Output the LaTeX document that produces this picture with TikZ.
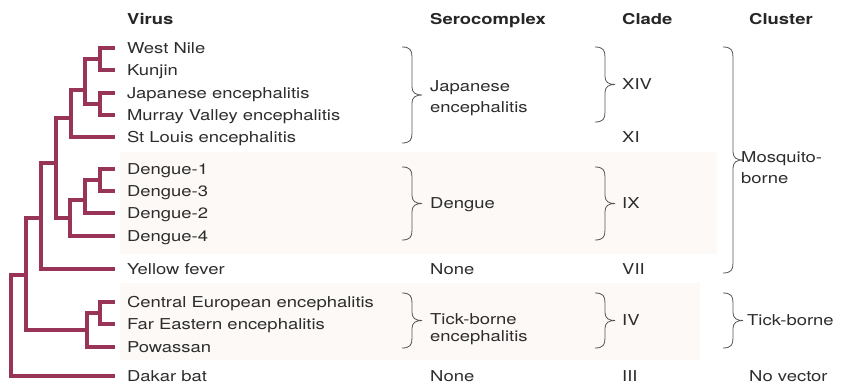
\documentclass[tikz,border=0pt]{standalone}
\usepackage{fontspec}
\setmainfont{TeX Gyre Heros}[FakeStretch=1.23]
\usepackage{tikz}
\usetikzlibrary{positioning}
\definecolor{ramacol}{RGB}{152,52,88}
\definecolor{banda}{RGB}{253,249,246}
\definecolor{texto}{RGB}{45,45,45}
\tikzset{
  rama/.style={draw=ramacol,line width=3.8pt},
  hoja/.style={anchor=west,inner sep=0pt,outer xsep=12pt,text=texto,
    font=\fontsize{15}{18}\selectfont,text height=11pt,text depth=0pt},
  col/.style={anchor=west,inner sep=0pt,text=texto,
    font=\fontsize{15}{18}\selectfont,text height=11pt,text depth=0pt},
  doble/.style={anchor=west,inner sep=0pt,text=texto,align=left,
    font=\fontsize{15}{#1}\selectfont},
  cab/.style={col,text=black!85,font=\fontsize{15}{18}\selectfont\bfseries},
  llave/.style={draw=texto!80,line width=0.8pt}
}
% llave: x, arriba, abajo
\newcommand{\llave}[3]{%
  \pgfmathsetmacro\llmid{(#2+#3)/2}%
  \draw[llave] (#1,#2) .. controls (#1+8,#2) and (#1+10,#2+3) .. (#1+10,#2+10)
    -- (#1+10,\llmid-8) .. controls (#1+10,\llmid-2) and (#1+14,\llmid) .. (#1+20,\llmid)
    .. controls (#1+14,\llmid) and (#1+10,\llmid+2) .. (#1+10,\llmid+8)
    -- (#1+10,#3-10) .. controls (#1+10,#3-3) and (#1+8,#3) .. (#1,#3);}

\begin{document}
\begin{tikzpicture}[x=1pt,y=-1pt]
\useasboundingbox (0,0) rectangle (841,385);
% bandas de fondo
\fill[banda] (120,152) rectangle (717,254);
\fill[banda] (120,283) rectangle (700,360);

% cabecera
\node[cab] (hvir) at (127,19) {Virus};
\node[cab] (hser) at (430,19) {Serocomplex};
\node[cab] (hcla) at (622,19) {Clade};
\node[cab] (hclu) at (749,19) {Cluster};

% virus
\node[hoja] (wn)  at (115,48)  {West Nile};
\node[hoja] (kun) at (115,70)  {Kunjin};
\node[hoja] (je)  at (115,93)  {Japanese encephalitis};
\node[hoja] (mv)  at (115,115) {Murray Valley encephalitis};
\node[hoja] (stl) at (115,137) {St Louis encephalitis};
\node[hoja] (d1)  at (115,169) {Dengue-1};
\node[hoja] (d3)  at (115,191) {Dengue-3};
\node[hoja] (d2)  at (115,213) {Dengue-2};
\node[hoja] (d4)  at (115,236) {Dengue-4};
\node[hoja] (yf)  at (115,269) {Yellow fever};
\node[hoja] (cee) at (115,302) {Central European encephalitis};
\node[hoja] (fee) at (115,324) {Far Eastern encephalitis};
\node[hoja] (pow) at (115,347) {Powassan};
\node[hoja] (dak) at (115,376) {Dakar bat};

% arbol
\coordinate (wk)   at (100,59);
\coordinate (jm)   at (100,104);
\coordinate (wkjm) at (85,90);
\coordinate (jec)  at (71,118);
\coordinate (d13)  at (100,180);
\coordinate (d132) at (85,200);
\coordinate (den)  at (70,218);
\coordinate (jed)  at (56,163);
\coordinate (mos)  at (41,218);
\coordinate (cf)   at (100,313);
\coordinate (tick) at (87,330);
\coordinate (vec)  at (26,275);
\coordinate (raiz) at (11,330);
\draw[rama] (wn.west) -| (wk) |- (kun.west);
\draw[rama] (je.west) -| (jm) |- (mv.west);
\draw[rama] (wk) -| (wkjm) |- (jm);
\draw[rama] (wkjm) -| (jec) |- (stl.west);
\draw[rama] (d1.west) -| (d13) |- (d3.west);
\draw[rama] (d13) -| (d132) |- (d2.west);
\draw[rama] (d132) -| (den) |- (d4.west);
\draw[rama] (jec) -| (jed) |- (den);
\draw[rama] (jed) -| (mos) |- (yf.west);
\draw[rama] (cee.west) -| (cf) |- (fee.west);
\draw[rama] (cf) -| (tick) |- (pow.west);
\draw[rama] (mos) -| (vec) |- (tick);
\draw[rama] (vec) -| (raiz) |- (dak.west);

% serocomplejos
\llave{402}{47}{143}
\llave{402}{167}{240}
\llave{402}{293}{348}
\node[doble=21] (sje) at (430,98) {Japanese\\encephalitis};
\node[col] (sden) at (430,203) {Dengue};
\node[col] (syf) at (430,269) {None};
\node[doble=17] (stbe) at (430,329) {Tick-borne\\encephalitis};
\node[col] (sdak) at (430,376) {None};

% clados
\llave{595}{47}{122}
\llave{595}{167}{240}
\llave{595}{293}{348}
\node[col] (cxiv) at (622,84)  {XIV};
\node[col] (cxi)  at (622,137) {XI};
\node[col] (cix)  at (622,203) {IX};
\node[col] (cvii) at (622,269) {VII};
\node[col] (civ)  at (622,320) {IV};
\node[col] (ciii) at (622,376) {III};

% grupos
\llave{723}{47}{273}
\llave{723}{293}{348}
\node[doble=21] (gmos) at (741,168) {Mosquito-\\borne};
\node[col] (gtick) at (747,320) {Tick-borne};
\node[col] (gno)   at (749,376) {No vector};
\end{tikzpicture}
\end{document}
